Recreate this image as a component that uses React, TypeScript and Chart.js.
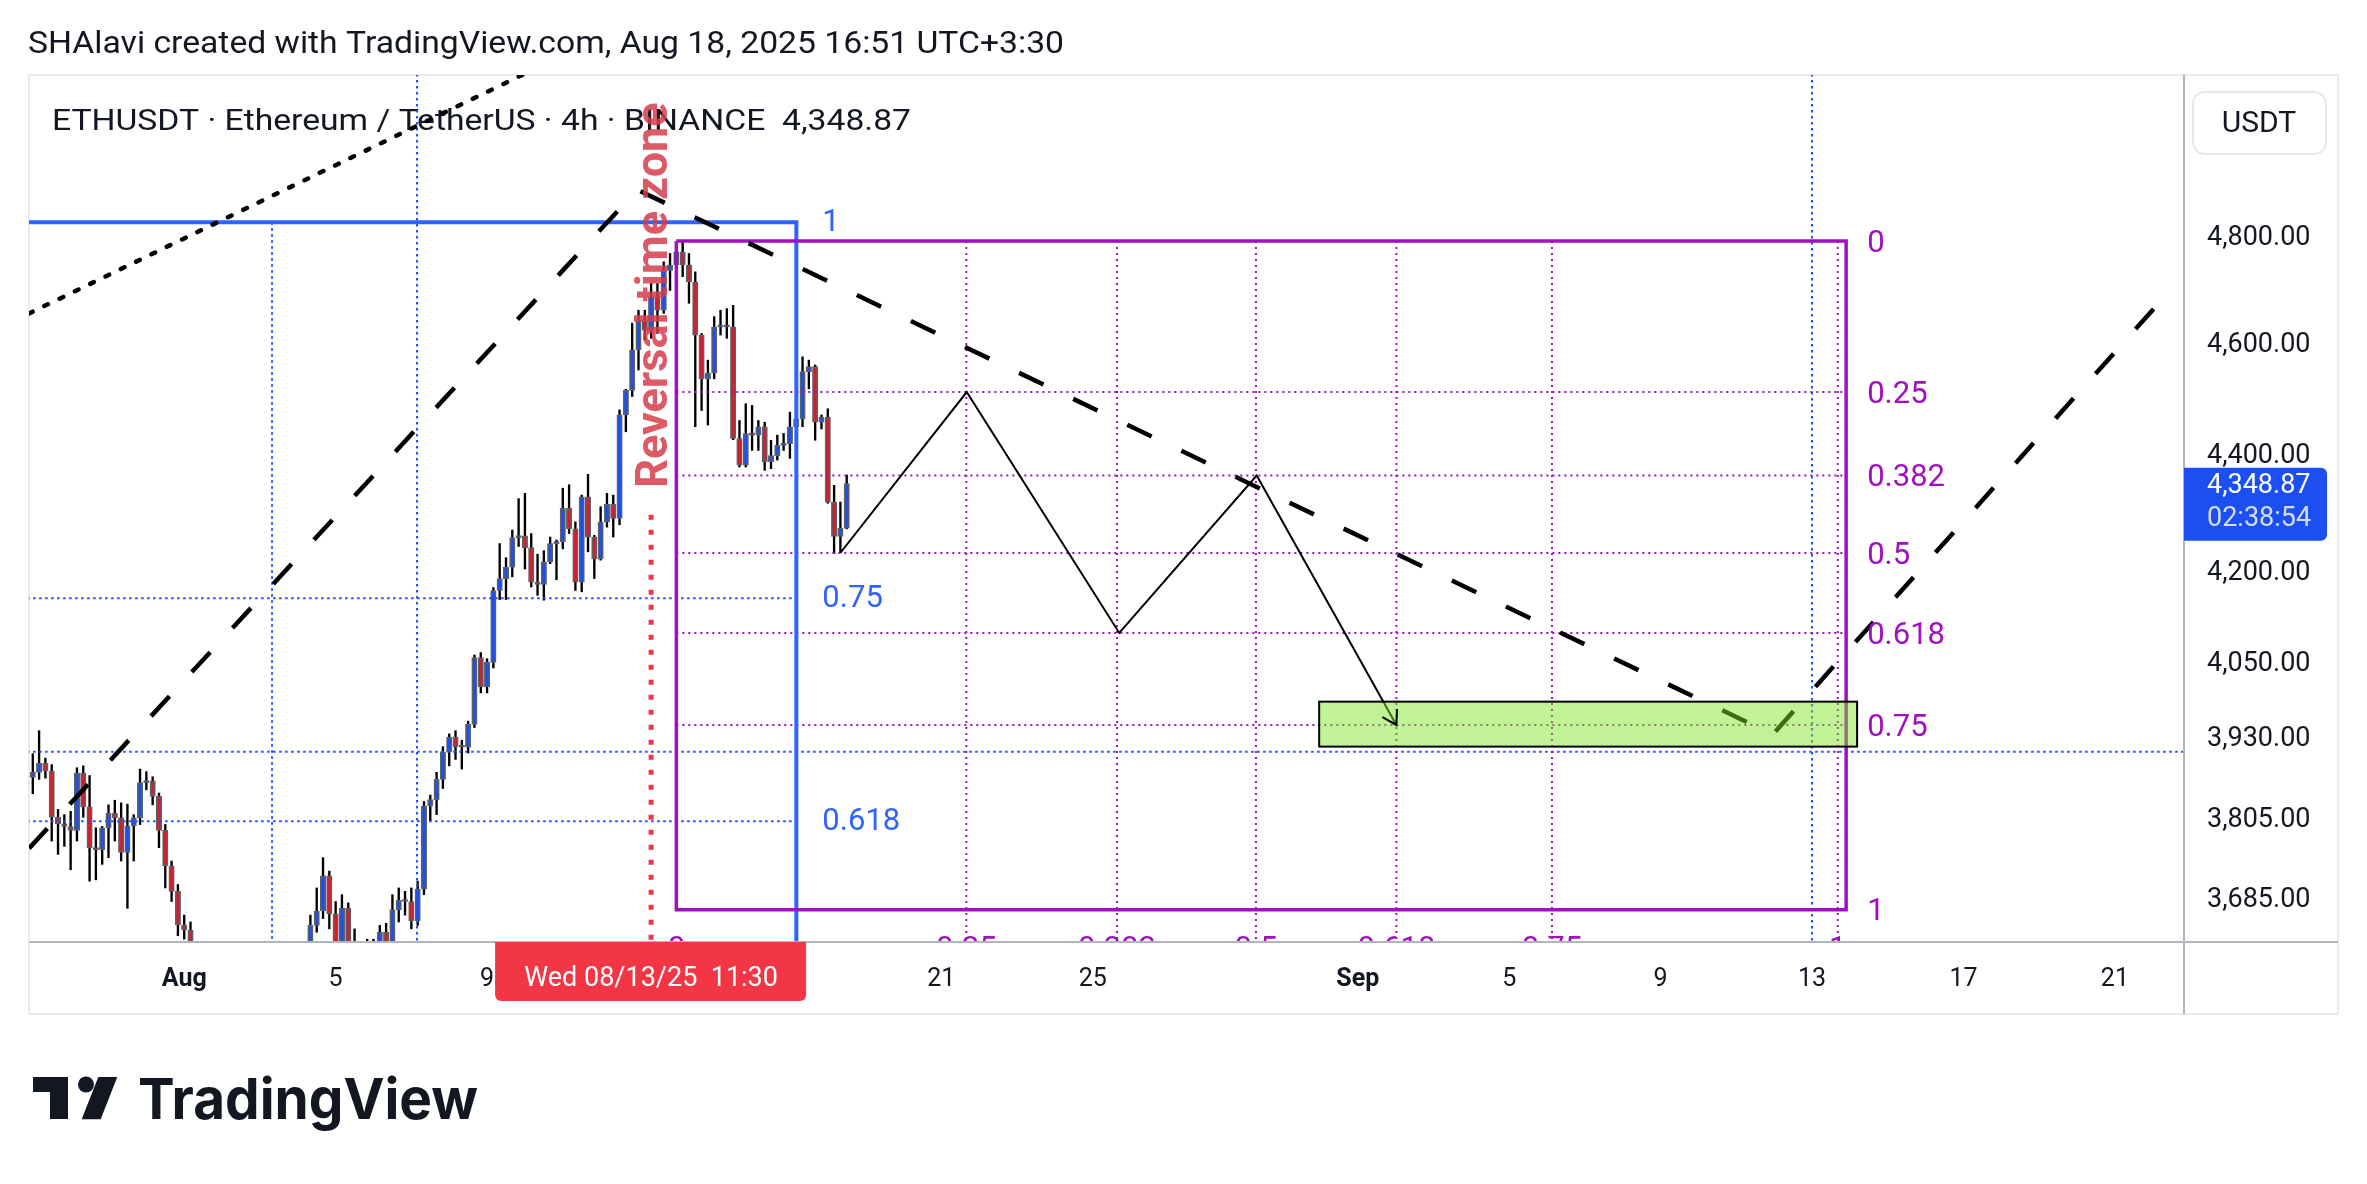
import React, { useEffect, useRef } from "react";
import { Chart, registerables } from "chart.js";

Chart.register(...registerables);

const PAGE_W = 2367;
const PAGE_H = 1184;

// ---------- texts ----------
const titleText = "SHAlavi created with TradingView.com, Aug 18, 2025 16:51 UTC+3:30";
const symbolText = "ETHUSDT · Ethereum / TetherUS · 4h · BINANCE  4,348.87";
const logoText = "TradingView";
const reversalText = "Reversal time zone";
const crosshairLabel = "Wed 08/13/25  11:30";
const currencyLabel = "USDT";
const countdownLabel = "02:38:54";

// ---------- axes ----------
const xTickDays = [0, 4, 8, 12, 16, 20, 24, 31, 35, 39, 43, 47, 51];
const xTickLabels = ["Aug", "5", "9", "13", "17", "21", "25", "Sep", "5", "9", "13", "17", "21"];
const xBoldTickDays = [0, 31];
const yTickValues = [4800, 4600, 4400, 4200, 4050, 3930, 3805, 3685];
const X_MIN = -4.1;
const X_MAX = 52.825;
const Y_MIN = 3620.9;
const Y_MAX = 5120.5;

// ---------- candles (4h, day 0 = Aug 1 00:00 UTC) ----------
const FIRST_CANDLE_DAY = -4;
const CANDLE_STEP_DAYS = 1 / 6;
const candleOpen = [
  3867, 3875, 3889, 3877, 3806, 3796, 3792, 3786, 3874, 3822,
  3760, 3757, 3790, 3812, 3805, 3753, 3793, 3805, 3859, 3862,
  3838, 3786, 3733, 3695, 3646, 3638, 3590, 3540, 3495, 3515,
  3470, 3450, 3460, 3410, 3425, 3400, 3380, 3395, 3420, 3445,
  3465, 3490, 3500, 3550, 3600, 3645, 3666, 3718, 3662, 3620,
  3670, 3605, 3590, 3575, 3612, 3600, 3635, 3618, 3668, 3682,
  3680, 3652, 3698, 3823, 3833, 3864, 3907, 3930, 3915, 3914,
  3950, 4057, 4010, 4049, 4167, 4187, 4206, 4256, 4259, 4239,
  4181, 4177, 4215, 4246, 4249, 4306, 4271, 4181, 4326, 4257,
  4220, 4283, 4313, 4289, 4470, 4514, 4588, 4643, 4624, 4686,
  4661, 4736, 4746, 4771, 4746, 4714, 4615, 4535, 4545, 4630,
  4633, 4630, 4428, 4381, 4437, 4434, 4449, 4387, 4398, 4416,
  4419, 4449, 4463, 4548, 4557, 4457, 4466, 4317, 4258, 4272,
];
const candleHigh = [
  3904, 3940, 3897, 3887, 3818, 3810, 3815, 3882, 3885, 3870,
  3790, 3792, 3825, 3832, 3828, 3826, 3810, 3880, 3876, 3868,
  3843, 3795, 3740, 3705, 3660, 3650, 3600, 3560, 3530, 3525,
  3490, 3480, 3470, 3440, 3445, 3420, 3410, 3430, 3460, 3480,
  3500, 3520, 3560, 3610, 3660, 3700, 3745, 3725, 3680, 3690,
  3678, 3640, 3615, 3625, 3625, 3645, 3648, 3690, 3700, 3695,
  3700, 3710, 3830, 3840, 3875, 3915, 3935, 3940, 3925, 3955,
  4061, 4065, 4055, 4172, 4246, 4222, 4269, 4323, 4332, 4263,
  4228, 4234, 4257, 4252, 4341, 4347, 4283, 4329, 4365, 4260,
  4309, 4332, 4329, 4479, 4516, 4637, 4661, 4661, 4711, 4711,
  4752, 4768, 4784, 4790, 4768, 4733, 4618, 4569, 4649, 4661,
  4664, 4670, 4460, 4490, 4487, 4460, 4457, 4425, 4434, 4437,
  4475, 4481, 4575, 4569, 4560, 4470, 4481, 4346, 4317, 4364,
];
const candleLow = [
  3842, 3864, 3866, 3770, 3750, 3762, 3727, 3770, 3806, 3710,
  3712, 3735, 3745, 3770, 3740, 3670, 3740, 3795, 3848, 3825,
  3760, 3700, 3680, 3630, 3625, 3560, 3520, 3470, 3480, 3440,
  3420, 3430, 3395, 3380, 3390, 3355, 3360, 3370, 3400, 3430,
  3450, 3470, 3490, 3540, 3590, 3635, 3655, 3640, 3600, 3605,
  3590, 3560, 3550, 3560, 3570, 3590, 3605, 3610, 3650, 3660,
  3640, 3645, 3690, 3800, 3810, 3850, 3885, 3895, 3880, 3905,
  3945, 4000, 4000, 4040, 4152, 4152, 4190, 4241, 4203, 4173,
  4159, 4151, 4212, 4185, 4237, 4263, 4167, 4165, 4232, 4187,
  4218, 4274, 4257, 4278, 4440, 4503, 4551, 4606, 4609, 4618,
  4655, 4698, 4708, 4724, 4674, 4449, 4478, 4452, 4535, 4615,
  4609, 4426, 4378, 4378, 4407, 4407, 4372, 4375, 4390, 4407,
  4393, 4443, 4449, 4517, 4425, 4445, 4315, 4229, 4232, 4271,
];
const candleClose = [
  3875, 3889, 3877, 3806, 3796, 3792, 3786, 3874, 3822, 3760,
  3757, 3790, 3812, 3805, 3753, 3793, 3805, 3859, 3862, 3838,
  3786, 3733, 3695, 3646, 3638, 3590, 3540, 3495, 3515, 3470,
  3450, 3460, 3410, 3425, 3400, 3380, 3395, 3420, 3445, 3465,
  3490, 3500, 3550, 3600, 3645, 3666, 3718, 3662, 3620, 3670,
  3605, 3590, 3575, 3612, 3600, 3635, 3618, 3668, 3682, 3680,
  3652, 3698, 3823, 3833, 3864, 3907, 3930, 3915, 3914, 3950,
  4057, 4010, 4049, 4167, 4187, 4206, 4256, 4259, 4239, 4181,
  4177, 4215, 4246, 4249, 4306, 4271, 4181, 4326, 4257, 4220,
  4283, 4313, 4289, 4470, 4514, 4588, 4643, 4624, 4686, 4661,
  4736, 4746, 4771, 4746, 4714, 4615, 4535, 4545, 4630, 4633,
  4630, 4428, 4381, 4437, 4434, 4449, 4387, 4398, 4416, 4419,
  4449, 4463, 4548, 4557, 4457, 4466, 4317, 4258, 4272, 4348.87,
];
const lastPrice = 4348.87;

// ---------- drawings ----------
const dashedTrendDays = [-4.1, 11.97, 41.96, 52.27];
const dashedTrendPrices = [3759, 4891, 3934, 4683];
const dottedChannelDays = [-4.1, 10];
const dottedChannelPrices = [4655, 5161];
const zigzagDays = [17.33, 20.67, 24.7, 28.33, 32.02];
const zigzagPrices = [4230, 4511, 4097, 4363, 3949];

const gannLeftDay = 13.0;
const gannRightDay = 43.9;
const gannLevelLabels = ["0", "0.25", "0.382", "0.5", "0.618", "0.75", "1"];
const gannLevelPrices = [4792, 4511, 4363, 4230, 4097, 3949, 3668];
const gannTimeLabels = ["0", "0.25", "0.382", "0.5", "0.618", "0.75", "1"];
const gannTimeDays = [13.0, 20.66, 24.64, 28.31, 32.02, 36.13, 43.68];

const blueFibLabels = ["1", "0.75", "0.618"];
const blueFibPrices = [4828, 4154, 3800];
const blueFibRightDay = 16.17;
const blueVerticalDays = [2.32, 6.15, 43.0];
const blueVerticalTopPrices = [4828, 5400, 5400];
const blueHorizontalPrice = 3907;

const greenBoxDays = [29.98, 44.19];
const greenBoxPrices = [3986, 3915];

const reversalDay = 12.333;
const reversalTopPrice = 4295;

// ---------- colours ----------
const UP_COLOR = "#1c4ff2";
const DOWN_COLOR = "#d31f2d";
const CANDLE_BORDER = "#5d6066";
const BLUE = "#2f63ff";
const BLUE_DOT = "#1f4fff";
const PURPLE = "#a00fc0";
const RED = "#f23645";
const TEXT = "#131722";
const FONT = "Roboto, 'Noto Sans', sans-serif";

const candleDay = (i: number) => FIRST_CANDLE_DAY + i * CANDLE_STEP_DAYS;

function lineDataset(xs: number[], ys: number[], color: string, width: number, dash: number[], order: number, cap = "butt") {
  return {
    type: "line",
    data: xs.map((x, i) => ({ x, y: ys[i] })),
    borderColor: color,
    borderWidth: width,
    borderDash: dash,
    borderCapStyle: cap,
    borderJoinStyle: "miter",
    pointRadius: 0,
    pointHoverRadius: 0,
    pointHitRadius: 0,
    fill: false,
    tension: 0,
    clip: 0,
    order,
  };
}

function drawFittedText(ctx: any, text: string, x: number, y: number, font: string, targetWidth: number, color: string) {
  ctx.save();
  ctx.font = font;
  ctx.fillStyle = color;
  ctx.textAlign = "left";
  ctx.textBaseline = "alphabetic";
  const w = ctx.measureText(text).width || 1;
  ctx.translate(x, y);
  ctx.scale(targetWidth / w, 1);
  ctx.fillText(text, 0, 0);
  ctx.restore();
}

const tvPlugin = {
  id: "tvDrawings",
  beforeDraw(chart: any) {
    const ctx = chart.ctx;
    ctx.save();
    ctx.fillStyle = "#ffffff";
    ctx.fillRect(0, 0, PAGE_W, PAGE_H);
    // card frame
    ctx.strokeStyle = "#e9ebf0";
    ctx.lineWidth = 2;
    ctx.strokeRect(29, 75, 2309, 939);
    // header
    drawFittedText(ctx, titleText, 28, 53, `31px ${FONT}`, 1036, TEXT);
    // logo icon
    ctx.fillStyle = TEXT;
    ctx.fillRect(33, 1077, 35, 15);
    ctx.fillRect(50, 1091, 18, 28);
    ctx.beginPath();
    ctx.arc(86, 1084.5, 8, 0, Math.PI * 2);
    ctx.fill();
    ctx.beginPath();
    ctx.moveTo(98.3, 1077);
    ctx.lineTo(117.3, 1077);
    ctx.lineTo(100.7, 1119.3);
    ctx.lineTo(81.7, 1119.3);
    ctx.closePath();
    ctx.fill();
    drawFittedText(ctx, logoText, 138, 1119, `bold 57px Inter, ${FONT}`, 340, TEXT);
    ctx.restore();
  },
  beforeDatasetsDraw(chart: any) {
    const ctx = chart.ctx;
    drawFittedText(ctx, symbolText, 52, 130, `30px ${FONT}`, 859, TEXT);
  },
  afterDatasetsDraw(chart: any) {
    const { ctx, chartArea: a } = chart;
    const xs = chart.scales.x;
    const ys = chart.scales.y;
    ctx.save();
    ctx.beginPath();
    ctx.rect(a.left, a.top, a.right - a.left, a.bottom - a.top);
    ctx.clip();

    // green target box
    const gx1 = xs.getPixelForValue(greenBoxDays[0]);
    const gx2 = xs.getPixelForValue(greenBoxDays[1]);
    const gy1 = ys.getPixelForValue(greenBoxPrices[0]);
    const gy2 = ys.getPixelForValue(greenBoxPrices[1]);
    ctx.fillStyle = "rgba(125,230,35,0.48)";
    ctx.fillRect(gx1, gy1, gx2 - gx1, gy2 - gy1);
    ctx.strokeStyle = "#000000";
    ctx.lineWidth = 2;
    ctx.strokeRect(gx1, gy1, gx2 - gx1, gy2 - gy1);

    // arrow head on zigzag
    const n = zigzagDays.length;
    const ex = xs.getPixelForValue(zigzagDays[n - 1]);
    const ey = ys.getPixelForValue(zigzagPrices[n - 1]);
    const sx = xs.getPixelForValue(zigzagDays[n - 2]);
    const sy = ys.getPixelForValue(zigzagPrices[n - 2]);
    const ang = Math.atan2(ey - sy, ex - sx);
    ctx.strokeStyle = "#000000";
    ctx.lineWidth = 2;
    ctx.beginPath();
    ctx.moveTo(ex - 16 * Math.cos(ang - 0.55), ey - 16 * Math.sin(ang - 0.55));
    ctx.lineTo(ex, ey);
    ctx.lineTo(ex - 16 * Math.cos(ang + 0.55), ey - 16 * Math.sin(ang + 0.55));
    ctx.stroke();

    // gann box price labels
    ctx.font = `31px ${FONT}`;
    ctx.textAlign = "left";
    ctx.textBaseline = "middle";
    ctx.fillStyle = PURPLE;
    const gl = xs.getPixelForValue(gannRightDay) + 21;
    gannLevelPrices.forEach((p, i) => ctx.fillText(gannLevelLabels[i], gl, ys.getPixelForValue(p) + 3));

    // gann time labels (cut by axis)
    ctx.textAlign = "center";
    ctx.textBaseline = "alphabetic";
    gannTimeDays.forEach((d, i) => ctx.fillText(gannTimeLabels[i], xs.getPixelForValue(d), a.bottom + 16));

    // blue fib labels
    ctx.textAlign = "left";
    ctx.textBaseline = "middle";
    ctx.fillStyle = BLUE;
    const bl = xs.getPixelForValue(blueFibRightDay) + 26;
    blueFibPrices.forEach((p, i) => ctx.fillText(blueFibLabels[i], bl, ys.getPixelForValue(p) + 1));

    // reversal text
    ctx.save();
    ctx.translate(xs.getPixelForValue(reversalDay) + 16, ys.getPixelForValue(reversalTopPrice) - 27);
    ctx.rotate(-Math.PI / 2);
    ctx.font = `bold 45px ${FONT}`;
    ctx.fillStyle = "rgba(214,60,75,0.85)";
    ctx.textAlign = "left";
    ctx.textBaseline = "alphabetic";
    ctx.fillText(reversalText, 0, 0);
    ctx.restore();

    ctx.restore();
  },
  afterDraw(chart: any) {
    const { ctx, chartArea: a } = chart;
    const xs = chart.scales.x;
    const ys = chart.scales.y;
    ctx.save();
    // axis separators
    ctx.strokeStyle = "#b2b5be";
    ctx.lineWidth = 2;
    ctx.beginPath();
    ctx.moveTo(29, a.bottom);
    ctx.lineTo(2338, a.bottom);
    ctx.moveTo(a.right, 75);
    ctx.lineTo(a.right, 1014);
    ctx.stroke();

    // currency button
    ctx.fillStyle = "#ffffff";
    ctx.strokeStyle = "#e6e8ee";
    ctx.lineWidth = 2;
    ctx.beginPath();
    ctx.roundRect(2193, 92, 133, 62, 12);
    ctx.fill();
    ctx.stroke();
    ctx.fillStyle = TEXT;
    ctx.font = `30px ${FONT}`;
    ctx.textAlign = "center";
    ctx.textBaseline = "middle";
    ctx.fillText(currencyLabel, 2259, 124);

    // last price label
    const py = ys.getPixelForValue(lastPrice);
    ctx.fillStyle = UP_COLOR;
    ctx.beginPath();
    ctx.roundRect(a.right, py - 16, 143, 73, [0, 6, 6, 0]);
    ctx.fill();
    ctx.font = `27px ${FONT}`;
    ctx.textAlign = "left";
    ctx.fillStyle = "#ffffff";
    ctx.fillText(lastPrice.toLocaleString("en-US", { minimumFractionDigits: 2 }), a.right + 23, py + 3);
    ctx.fillStyle = "#d4ddfd";
    ctx.fillText(countdownLabel, a.right + 23, py + 36);

    // crosshair time label
    const cx = xs.getPixelForValue(reversalDay);
    ctx.fillStyle = RED;
    ctx.beginPath();
    ctx.roundRect(cx - 156, a.bottom, 311, 59, [0, 0, 6, 6]);
    ctx.fill();
    ctx.fillStyle = "#ffffff";
    ctx.font = `27px ${FONT}`;
    ctx.textAlign = "center";
    ctx.textBaseline = "middle";
    ctx.fillText(crosshairLabel, cx, 979);
    ctx.restore();
  },
};

function buildConfig(): any {
  const wickData = candleHigh.map((h, i) => ({ x: candleDay(i), y: [candleLow[i], h] }));
  const bodyData = candleOpen.map((o, i) => ({ x: candleDay(i), y: [o, candleClose[i]] }));
  const bodyColors = candleOpen.map((o, i) => (candleClose[i] >= o ? UP_COLOR : DOWN_COLOR));

  const gTop = gannLevelPrices[0];
  const gBottom = gannLevelPrices[gannLevelPrices.length - 1];

  const datasets: any[] = [
    {
      type: "bar",
      data: wickData,
      backgroundColor: "#000000",
      borderWidth: 0,
      barThickness: 1.7,
      grouped: false,
      clip: 0,
      order: 100,
    },
    {
      type: "bar",
      data: bodyData,
      backgroundColor: bodyColors,
      borderColor: CANDLE_BORDER,
      borderWidth: 1.6,
      borderSkipped: false,
      barThickness: 5.4,
      minBarLength: 2,
      grouped: false,
      clip: 0,
      order: 99,
    },
    lineDataset(dashedTrendDays, dashedTrendPrices, "#000000", 4.5, [27, 33], 30),
    lineDataset(dottedChannelDays, dottedChannelPrices, "#000000", 4.5, [4, 13], 30, "round"),
    lineDataset(zigzagDays, zigzagPrices, "#000000", 2, [], 20),
    lineDataset([reversalDay, reversalDay], [reversalTopPrice, 3400], RED, 5, [5, 10], 10),
    lineDataset([X_MIN - 1, blueFibRightDay, blueFibRightDay], [blueFibPrices[0], blueFibPrices[0], 3400], BLUE, 4, [], 55),
    ...blueFibPrices.slice(1).map((p) => lineDataset([X_MIN - 1, blueFibRightDay], [p, p], BLUE_DOT, 2, [2.5, 3.5], 60)),
    lineDataset([X_MIN - 1, X_MAX + 1], [blueHorizontalPrice, blueHorizontalPrice], BLUE_DOT, 2, [2.5, 3.5], 60),
    ...blueVerticalDays.map((d, i) => lineDataset([d, d], [blueVerticalTopPrices[i], 3400], BLUE_DOT, 2, [2.5, 3.5], 60)),
    lineDataset(
      [gannLeftDay, gannRightDay, gannRightDay, gannLeftDay, gannLeftDay],
      [gTop, gTop, gBottom, gBottom, gTop],
      PURPLE, 3.5, [], 50
    ),
    ...gannLevelPrices.slice(1, -1).map((p) => lineDataset([gannLeftDay, gannRightDay], [p, p], PURPLE, 2, [2, 4], 58)),
    ...gannTimeDays.slice(1).map((d) => lineDataset([d, d], [gTop, 3500], PURPLE, 2, [2, 4], 58)),
  ];

  return {
    type: "bar",
    data: { datasets },
    options: {
      responsive: false,
      devicePixelRatio: 1,
      animation: false,
      events: [],
      layout: { padding: { left: 29, top: 75, right: 29, bottom: 170 } },
      plugins: { legend: { display: false }, tooltip: { enabled: false } },
      scales: {
        x: {
          type: "linear",
          min: X_MIN,
          max: X_MAX,
          bounds: "data",
          offset: false,
          grid: { display: false, drawTicks: false, offset: false },
          border: { display: false },
          afterBuildTicks: (s: any) => {
            s.ticks = xTickDays.map((v) => ({ value: v }));
          },
          afterFit: (s: any) => {
            s.height = 72;
          },
          ticks: {
            autoSkip: false,
            maxRotation: 0,
            minRotation: 0,
            padding: 23,
            color: TEXT,
            font: (c: any) => ({
              family: FONT,
              size: 25,
              weight: c.tick && xBoldTickDays.includes(c.tick.value) ? "bold" : "normal",
            }),
            callback: (v: any) => {
              const i = xTickDays.indexOf(Number(v));
              return i >= 0 ? xTickLabels[i] : "";
            },
          },
        },
        y: {
          type: "logarithmic",
          position: "right",
          min: Y_MIN,
          max: Y_MAX,
          bounds: "data",
          grid: { display: false, drawTicks: false },
          border: { display: false },
          afterBuildTicks: (s: any) => {
            s.ticks = yTickValues.map((v) => ({ value: v }));
          },
          afterFit: (s: any) => {
            s.width = 154;
          },
          ticks: {
            padding: 23,
            labelOffset: 2,
            color: TEXT,
            font: { family: FONT, size: 27 },
            callback: (v: any) =>
              Number(v).toLocaleString("en-US", { minimumFractionDigits: 2, maximumFractionDigits: 2 }),
          },
        },
      },
    },
    plugins: [tvPlugin],
  };
}

export default function App() {
  const ref = useRef<HTMLCanvasElement | null>(null);
  useEffect(() => {
    if (!ref.current) return;
    const chart = new Chart(ref.current, buildConfig());
    return () => chart.destroy();
  }, []);
  return (
    <canvas
      ref={ref}
      width={PAGE_W}
      height={PAGE_H}
      style={{ position: "fixed", left: 0, top: 0, width: PAGE_W, height: PAGE_H }}
    />
  );
}
